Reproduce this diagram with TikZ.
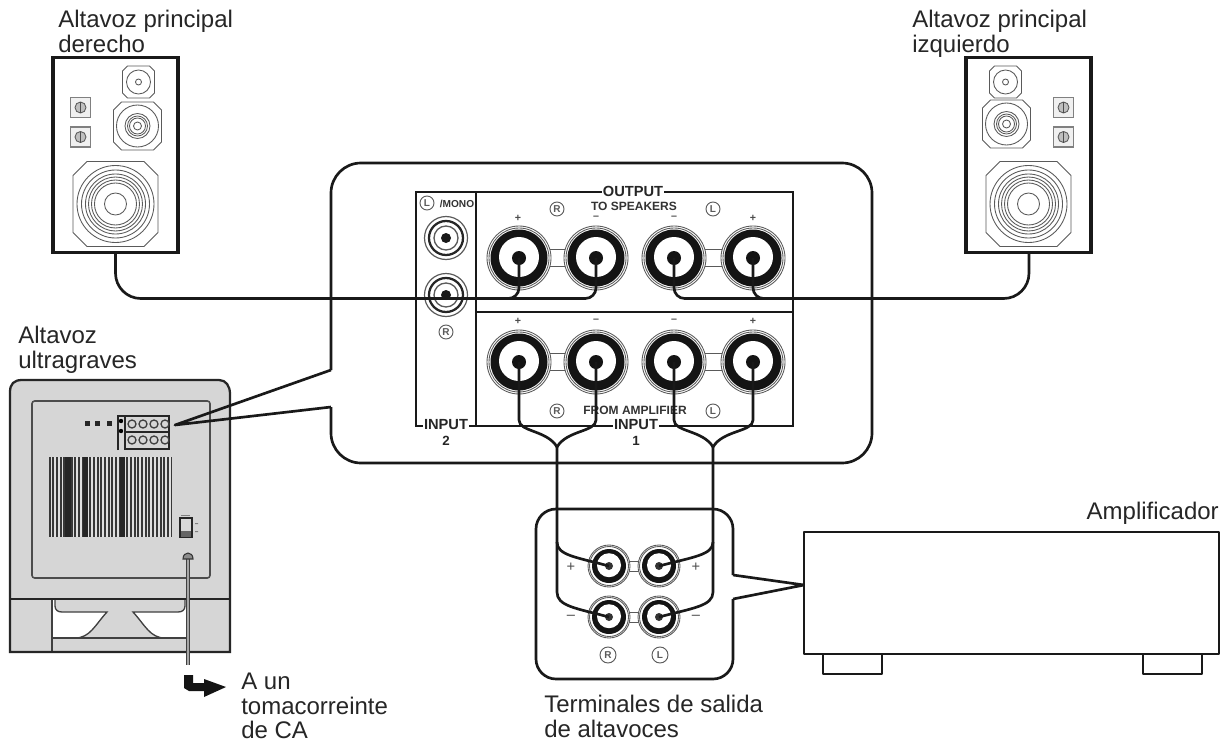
\documentclass[tikz,border=0pt]{standalone}
\usepackage{fontspec}
\setmainfont{Liberation Sans}
\definecolor{subgray}{HTML}{D6D6D6}
\definecolor{ringgray}{HTML}{5A5A5A}
\tikzset{
  label text/.style={inner sep=0pt,anchor=north west,align=left,font=\fontsize{18}{18.4}\selectfont,text=black!85},
  panel text/.style={inner sep=1pt,font=\bfseries\fontsize{11}{11}\selectfont,text=black!85},
  panel digit/.style={inner sep=0pt,font=\bfseries\fontsize{10}{10}\selectfont,text=black!85},
  small text/.style={inner sep=0pt,font=\bfseries\fontsize{9}{9}\selectfont,text=black!80},
  sign text/.style={inner sep=0pt,font=\bfseries\fontsize{8}{8}\selectfont,text=black!70},
  circled/.style={circle,draw=ringgray,line width=.7pt,inner sep=0pt,minimum size=10.5pt,text=ringgray,font=\bfseries\fontsize{7.5}{7.5}\selectfont},
  thick box/.style={line width=2.5pt,draw=black!90},
  call line/.style={line width=2pt,draw=black!90,line join=round},
  frame line/.style={line width=1.9pt,draw=black!90},
  cable/.style={line width=2pt,draw=black!90},
  thin ring/.style={line width=.65pt,draw=ringgray},
}
% #1 name, #2 x, #3 y : large terminal
\newcommand{\bigjack}[3]{%
  \coordinate (#1) at (#2,#3);
  \begin{scope}[shift={(#2,#3)}]
    \draw[thin ring,fill=white] (0,0) circle[radius=32];
    \draw[thin ring] (0,0) circle[radius=30];
    \fill[black!92] (0,0) circle[radius=28.5];
    \fill[white] (0,-1) circle[radius=20];
    \fill[black!92] (0,0) circle[radius=7];
  \end{scope}}
% #1 name, #2 x, #3 y : small terminal
\newcommand{\smalljack}[3]{%
  \coordinate (#1) at (#2,#3);
  \begin{scope}[shift={(#2,#3)}]
    \draw[thin ring,fill=white] (0,0) circle[radius=21];
    \draw[thin ring] (0,0) circle[radius=19.5];
    \fill[black!92] (0,0) circle[radius=17];
    \fill[white] (0,-.8) circle[radius=12];
    \fill[black!80] (0,0) circle[radius=4];
  \end{scope}}
% #1 centre, #2 half width, #3 chamfer
\newcommand{\octa}[3]{%
  \draw[thin ring,shift={#1}] (-#2+#3,-#2) -- (#2-#3,-#2) -- (#2,-#2+#3) -- (#2,#2-#3) -- (#2-#3,#2) -- (-#2+#3,#2) -- (-#2,#2-#3) -- (-#2,-#2+#3) -- cycle;}
% #1 name of the speaker, #2 centre x, #3 mirror, #4 y of mid driver
\newcommand{\speaker}[4]{%
  \node[draw=none,inner sep=0pt,minimum width=0pt] (#1) at (#2,155) {};
  \begin{scope}[shift={(#2,0)},xscale=#3]
    \draw[thick box,fill=white] (-62.5,57.5) rectangle (62.5,252.5);
    \octa{(0,204)}{42.5}{14}
    \foreach \r in {38.5,34,30,27,24,21,11}{\draw[thin ring] (0,204) circle[radius=\r];}
    \octa{(22,#4)}{24}{8}
    \foreach \r in {21,12.5,10,8,4}{\draw[thin ring] (22,#4) circle[radius=\r];}
    \octa{(23,82)}{16}{5}
    \foreach \r in {12,3}{\draw[thin ring] (23,82) circle[radius=\r];}
    \foreach \y in {107.5,137}{
      \draw[line width=1.2pt,draw=black!50,fill=black!6] (-45,\y-10) rectangle (-25,\y+10);
      \draw[thin ring,fill=black!25] (-35,\y) circle[radius=5.5];
      \draw[line width=.9pt,draw=black!70] (-35,\y-5.5) -- (-35,\y+5.5);
    }
  \end{scope}}
\begin{document}
\begin{tikzpicture}[x=0.75pt,y=-0.75pt]
\useasboundingbox (0,0) rectangle (1226,742);
\fill[white] (0,0) rectangle (1226,742);

% ---- speakers
\speaker{spkR}{115.5}{1}{126}
\speaker{spkL}{1028.5}{-1}{124}
\coordinate (spkRout) at (115.5,252);
\coordinate (spkLout) at (1029,253);

% ---- subwoofer
\path[fill=subgray] (10,652) -- (10,392) .. controls (10,384) and (14,380) .. (22,380) -- (219,380) .. controls (226,380) and (230,386) .. (230,394) -- (230,652) -- cycle;
\fill[white] (52,600) rectangle (187,638);
\fill[subgray] (55,600) -- (185,600) -- (185,606) .. controls (185,610) and (182,612) .. (178,612) -- (133,612) .. controls (145,625) and (150,638) .. (165,638) -- (75,638) .. controls (90,638) and (95,625) .. (107,612) -- (62,612) .. controls (58,612) and (55,610) .. (55,606) -- cycle;
\draw[line width=1pt,draw=black!75] (55,600) -- (55,606) .. controls (55,610) and (58,612) .. (62,612) -- (107,612) .. controls (95,625) and (90,638) .. (75,638);
\draw[line width=1pt,draw=black!75] (185,600) -- (185,606) .. controls (185,610) and (182,612) .. (178,612) -- (133,612) .. controls (145,625) and (150,638) .. (165,638);
\draw[line width=1.1pt,draw=black!75] (52,600) -- (52,652) (52,638) -- (187,638);
\draw[line width=1.7pt,draw=black!85] (10,652) -- (10,392) .. controls (10,384) and (14,380) .. (22,380) -- (219,380) .. controls (226,380) and (230,386) .. (230,394) -- (230,652) -- cycle;
\draw[line width=2.2pt,draw=black!85] (10,599) -- (230,599);
\draw[line width=1.2pt,draw=black!70,rounded corners=2pt] (32,401) rectangle (210,578);
% grille
\fill[black!78] (49,457) rectangle (172,537);
\foreach \i in {0,...,32}{
  \fill[subgray!75!white] ({50.5+\i*3.7},457) rectangle ++(1.7,80);
}
\fill[black!85] (65,457) rectangle (71,537);
\fill[black!85] (83,457) rectangle (87.5,537);
\fill[black!85] (120,457) rectangle (125,537);
% mini terminal block
\foreach \x in {87,97,109}{\fill[black!85] (\x-2.5,420.5) rectangle (\x+2.5,425.5);}
\draw[line width=1.1pt,draw=black!85] (118,450) -- (118,416) -- (169,416) -- (169,449) -- (125,449) -- (125,416) (125,432) -- (169,432);
\foreach \x in {132,143,154,165}{
  \foreach \y in {424,440}{\draw[line width=1pt,draw=black!75] (\x,\y) circle[radius=4];}
}
\fill[black] (121,421) circle[radius=2.2] (121,431) circle[radius=2.2];
% switch
\draw[line width=.7pt,draw=black!50] (181,515) -- (190,515);
\draw[line width=1.3pt,draw=black!85,fill=white!85!black] (180,518) rectangle (192,537);
\fill[black!60] (181,531) rectangle (191,537);
\fill[black!50] (195,523) rectangle (198,524) (195,531) rectangle (198,532);
% power cord
\draw[line width=3.4pt,draw=black!75] (188,558) -- (188,665);
\draw[line width=1.5pt,draw=black!35] (188,558) -- (188,665);
\draw[line width=.8pt,draw=black!80,fill=black!45] (183,559) .. controls (183,551) and (193,551) .. (193,559) -- cycle;
% arrow to the socket
\fill[black!92] (184,675) -- (193,675) -- (193,683) -- (204,683) -- (204,679) -- (226,687) -- (204,697) -- (204,691) -- (189,691) -- (184,688) -- cycle;

% ---- large call-out
\coordinate (bigTip) at (175,425);
\draw[call line,rounded corners=22.5pt] (331,370) -- (331,163) -- (872,163) -- (872,463) -- (331,463) -- (331,407);
\draw[call line] (331,370) -- (bigTip) -- (331,407);

% ---- small call-out and amplifier
\coordinate (ampAnchor) at (804,585);
\draw[call line,rounded corners=15pt] (733,575) -- (733,509) -- (536,509) -- (536,679) -- (733,679) -- (733,599);
\draw[call line] (733,575) -- (ampAnchor) -- (733,599);
\draw[call line,fill=white] (823,654) rectangle (882,674);
\draw[call line,fill=white] (1143,654) rectangle (1202,674);
\draw[call line,fill=white] (804,532) rectangle (1219,654);

% ---- connector panel
\draw[frame line] (416,192) rectangle (793,426);
\draw[frame line] (476,192) -- (476,426);
\draw[frame line] (476,312) -- (793,312);

% links between terminals
\foreach \a/\b/\y in {519/596/258,674/753/258,519/596/362,674/753/362}{
  \draw[thin ring] (\a,\y-8.5) -- (\b,\y-8.5) (\a,\y+8.5) -- (\b,\y+8.5);
}
\bigjack{o1}{519}{258}
\bigjack{o2}{596}{258}
\bigjack{o3}{674}{258}
\bigjack{o4}{753}{258}
\bigjack{i1}{519}{362}
\bigjack{i2}{596}{362}
\bigjack{i3}{674}{362}
\bigjack{i4}{753}{362}

% RCA inputs
\foreach \y in {238,295}{
  \draw[thin ring,line width=.9pt,fill=white] (446,\y) circle[radius=21.5];
  \draw[black!85,line width=1.7pt] (446,\y) circle[radius=17];
  \draw[thin ring,line width=1pt] (446,\y) circle[radius=12];
  \fill[black!90] (446,\y) circle[radius=5];
}

% panel texts
\node[panel text,fill=white] (tOut) at (633,191) {OUTPUT};
\node[small text] (tSpk) at (634,206) {TO SPEAKERS};
\node[small text] (tAmp) at (635,410) {FROM AMPLIFIER};
\node[panel text,fill=white] (tIn1) at (636,425) {INPUT};
\node[panel digit] (tIn1b) at (636,441) {1};
\node[panel text,fill=white] (tIn2) at (446,425) {INPUT};
\node[panel digit] (tIn2b) at (446,441) {2};
\node[small text,font=\bfseries\fontsize{7.6}{8}\selectfont] (tMono) at (457,204) {/MONO};
\node[circled] (cL0) at (427,203) {L};
\node[circled] (cR0) at (446,332) {R};
\node[circled] (cR1) at (557,209) {R};
\node[circled] (cL1) at (713,209) {L};
\node[circled] (cR2) at (557,411) {R};
\node[circled] (cL2) at (713,411) {L};
\node[sign text] (s1) at (518,218) {+};
\node[sign text] (s2) at (596,218) {–};
\node[sign text] (s3) at (674,218) {–};
\node[sign text] (s4) at (753,218) {+};
\node[sign text] (s5) at (518,321) {+};
\node[sign text] (s6) at (596,321) {–};
\node[sign text] (s7) at (674,321) {–};
\node[sign text] (s8) at (753,321) {+};

% small panel terminals
\foreach \y in {566,617}{
  \draw[thin ring] (609,\y-5) -- (659,\y-5) (609,\y+5) -- (659,\y+5);
}
\smalljack{a1}{609}{566}
\smalljack{a2}{659}{566}
\smalljack{a3}{609}{617}
\smalljack{a4}{659}{617}
\node[sign text,font=\fontsize{11}{11}\selectfont] (s9) at (571,567) {+};
\node[sign text,font=\fontsize{11}{11}\selectfont] (s10) at (696,567) {+};
\node[sign text,font=\fontsize{11}{11}\selectfont] (s11) at (571,617) {–};
\node[sign text,font=\fontsize{11}{11}\selectfont] (s12) at (696,617) {–};
\node[circled,minimum size=12pt] (cR3) at (608,655) {R};
\node[circled,minimum size=12pt] (cL3) at (660,655) {L};

% ---- cables
\coordinate (busA) at (300,298.5);
\coordinate (busB) at (850,298.5);
\draw[cable,rounded corners=19pt] (spkRout) |- (busA);
\draw[cable,rounded corners=8pt] (busA) -| (o1);
\draw[cable,rounded corners=8pt] (busA) -| (o2);
\draw[cable,rounded corners=19pt] (spkLout) |- (busB);
\draw[cable,rounded corners=8pt] (busB) -| (o3);
\draw[cable,rounded corners=8pt] (busB) -| (o4);

\coordinate (jR) at (557,447);
\coordinate (jL) at (713,447);
\draw[cable] (i1) -- (519,420) .. controls (519,432) and (547,430) .. (jR);
\draw[cable] (i2) -- (596,420) .. controls (596,432) and (567,430) .. (jR);
\draw[cable] (i3) -- (674,420) .. controls (674,432) and (703,430) .. (jL);
\draw[cable] (i4) -- (753,420) .. controls (753,432) and (723,430) .. (jL);
\draw[cable] (jR) -- (557,542) .. controls (557,555) and (575,557) .. (a1);
\draw[cable] (jL) -- (713,542) .. controls (713,555) and (693,557) .. (a2);
\draw[cable] (557,542) -- (557,592) .. controls (557,606) and (575,608) .. (a3);
\draw[cable] (713,542) -- (713,592) .. controls (713,606) and (693,608) .. (a4);

% ---- labels
\node[label text] (lbR) at (58,10) {Altavoz principal\\derecho};
\node[label text] (lbL) at (912,10) {Altavoz principal\\izquierdo};
\node[label text] (lbS) at (18,326) {Altavoz\\ultragraves};
\node[label text] (lbC) at (241,673) {A un\\tomacorreinte\\de CA};
\node[label text] (lbT) at (544,695) {Terminales de salida\\de altavoces};
\node[label text,anchor=north east] (lbA) at (1219,502) {Amplificador};
\end{tikzpicture}
\end{document}
